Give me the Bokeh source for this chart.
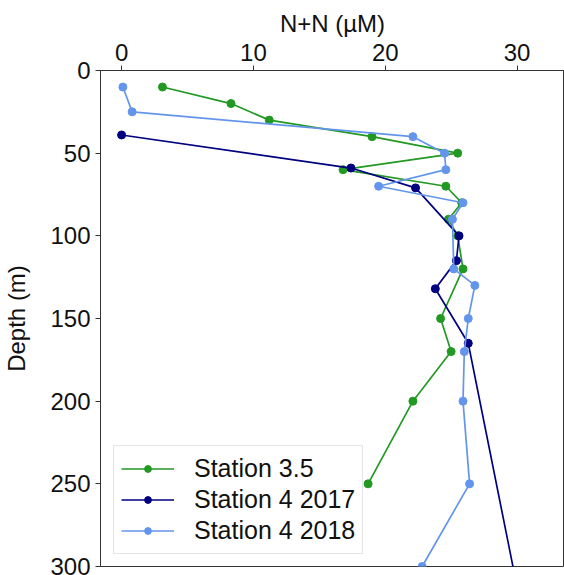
from bokeh.plotting import figure
from bokeh.models import Range1d, FixedTicker, Legend, LegendItem
from bokeh.embed import file_html
from bokeh.resources import INLINE

# Station 3.5
depth_35 = [10, 20, 30, 40, 50, 60, 70, 80, 90, 100, 120, 150, 170, 200, 250]
nn_35 = [3.1, 8.3, 11.2, 19.0, 25.5, 16.8, 24.6, 25.8, 24.8, 25.5, 25.9, 24.2, 25.0, 22.1, 18.7]

# Station 4 2017
depth_17 = [39, 59, 71, 100, 115, 132, 165, 400]
nn_17 = [0.0, 17.4, 22.3, 25.6, 25.4, 23.8, 26.3, 32.2]

# Station 4 2018
depth_18 = [10, 25, 40, 50, 60, 70, 80, 90, 120, 130, 150, 170, 200, 250, 300]
nn_18 = [0.1, 0.8, 22.1, 24.5, 24.6, 19.5, 25.9, 25.1, 25.2, 26.8, 26.3, 26.0, 25.9, 26.4, 22.8]

x_ticks = [0, 10, 20, 30]
y_ticks = [0, 50, 100, 150, 200, 250, 300]

series = [
    ("Station 3.5", depth_35, nn_35, "#229922"),
    ("Station 4 2017", depth_17, nn_17, "#000080"),
    ("Station 4 2018", depth_18, nn_18, "#6495ED"),
]

FONT = "Liberation Sans"

p = figure(width=564, height=575, output_backend="svg", toolbar_location=None,
           x_range=Range1d(-1.6, 33.6), y_range=Range1d(300, 0),
           x_axis_location="above",
           min_border_left=100, min_border_right=0, min_border_top=70, min_border_bottom=9)

p.xgrid.visible = False
p.ygrid.visible = False
p.outline_line_color = "#333333"
p.outline_line_width = 1

for ax in (p.xaxis[0], p.yaxis[0]):
    ax.major_label_text_font = FONT
    ax.major_label_text_font_size = "24px"
    ax.major_label_text_color = "#111111"
    ax.axis_label_text_font = FONT
    ax.axis_label_text_font_size = "24px"
    ax.axis_label_text_font_style = "normal"
    ax.axis_label_text_color = "#111111"
    ax.minor_tick_line_color = None
    ax.major_tick_in = 0
    ax.major_tick_out = 5
    ax.major_tick_line_color = "#333333"
    ax.axis_line_color = "#333333"
    ax.major_label_standoff = 5

p.xaxis[0].ticker = FixedTicker(ticks=x_ticks)
p.yaxis[0].ticker = FixedTicker(ticks=y_ticks)
p.xaxis[0].axis_label = "N+N (µM)"
p.yaxis[0].axis_label = "Depth (m)"
p.xaxis[0].axis_label_standoff = 4
p.yaxis[0].axis_label_standoff = 17

items = []
for name, d, v, c in series:
    r1 = p.line(v, d, line_color=c, line_width=1.7)
    r2 = p.scatter(v, d, size=8, fill_color=c, line_color=c)
    items.append(LegendItem(label=name, renderers=[r1, r2]))

legend = Legend(items=items, location=(13, 12))
legend.label_text_font = FONT
legend.label_text_font_size = "25px"
legend.label_text_color = "#111111"
legend.glyph_width = 53
legend.glyph_height = 17
legend.label_height = 31
legend.label_standoff = 20
legend.padding = 7
legend.spacing = 0
legend.margin = 0
legend.border_line_color = "#cccccc"
legend.border_line_width = 1
legend.background_fill_alpha = 0.8
p.add_layout(legend, "center")

open("out.html", "w").write(file_html(p, INLINE))
